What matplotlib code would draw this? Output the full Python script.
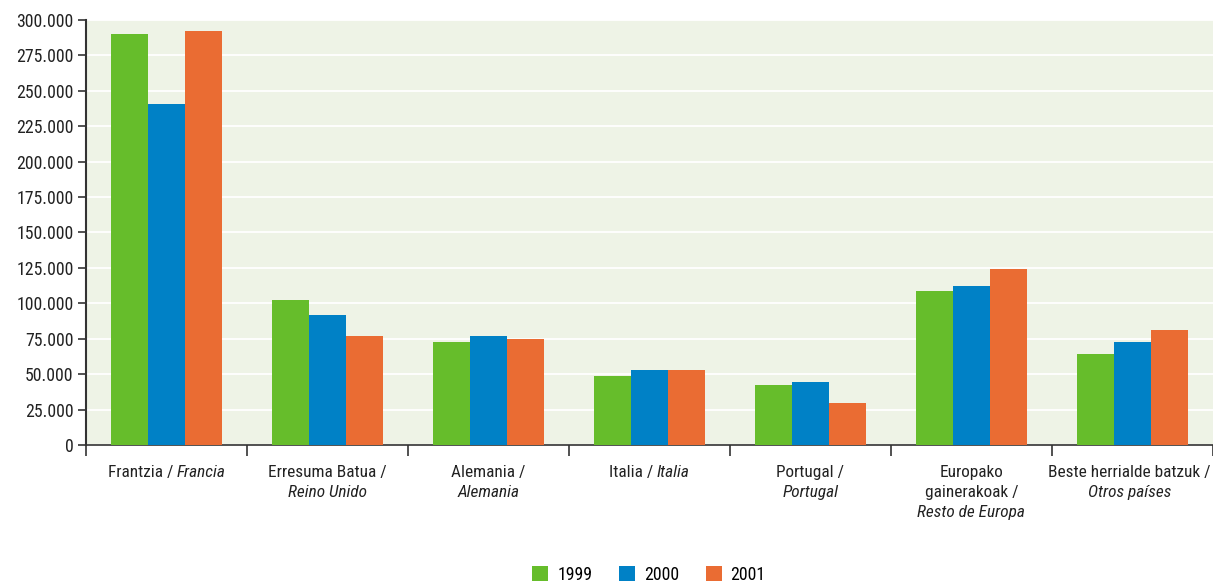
import numpy as np
import matplotlib
matplotlib.use("Agg")
import matplotlib.pyplot as plt
from matplotlib.offsetbox import TextArea, HPacker, VPacker, AnnotationBbox
from matplotlib.ticker import FuncFormatter, MultipleLocator

plt.rcParams['font.family'] = ['Roboto Condensed', 'DejaVu Sans']
FS = 12.8
FS_X = 12.4

years = ['1999', '2000', '2001']
colors = ['#66BD2B', '#0081C6', '#EA6C33']

# each label: list of lines, each line list of (text, italic)
labels = [
    [[('Frantzia /', False), ('Francia', True)]],
    [[('Erresuma Batua /', False)], [('Reino Unido', True)]],
    [[('Alemania /', False)], [('Alemania', True)]],
    [[('Italia /', False), ('Italia', True)]],
    [[('Portugal /', False)], [('Portugal', True)]],
    [[('Europako', False)], [('gainerakoak /', False)], [('Resto de Europa', True)]],
    [[('Beste herrialde batzuk /', False)], [('Otros países', True)]],
]

v1999 = [290000, 102500, 73000, 49000, 42500, 109000, 64500]
v2000 = [240500, 92000, 77000, 53000, 44500, 112000, 73000]
v2001 = [292000, 77000, 75000, 53000, 29500, 124500, 81500]
series = [v1999, v2000, v2001]

fig = plt.figure(figsize=(12.13, 5.84), dpi=100)
ax = fig.add_axes([0.0709, 0.238, 0.929, 0.728])
ax.set_facecolor('#EEF3E6')

x = np.arange(len(labels))
w = 0.23
for k, (vals, c, yr) in enumerate(zip(series, colors, years)):
    ax.bar(x + (k - 1) * w, vals, width=w, color=c, label=yr, zorder=3)

ax.set_xlim(-0.5, len(labels) - 0.5)
ax.set_ylim(0, 300000)
ax.yaxis.set_major_locator(MultipleLocator(25000))
ax.yaxis.set_major_formatter(FuncFormatter(
    lambda v, p: '0' if v == 0 else '{:,.0f}'.format(v).replace(',', '.')))
ax.grid(axis='y', color='white', linewidth=1.3, zorder=1)
ax.set_axisbelow(True)

for s in ['top', 'right']:
    ax.spines[s].set_visible(False)
ax.spines['left'].set_color('#333333')
ax.spines['left'].set_linewidth(1.5)
ax.spines['bottom'].set_color('#333333')
ax.spines['bottom'].set_linewidth(1.2)

ax.tick_params(axis='y', length=6, width=1.2, color='#333333', labelsize=FS,
               labelcolor='#222222', pad=3)
ax.set_xticks(x)
ax.set_xticklabels([])
ax.tick_params(axis='x', which='major', length=0)
ax.set_xticks(np.arange(-0.5, len(labels) - 0.4, 1), minor=True)
ax.tick_params(axis='x', which='minor', length=8, width=1.2, color='#333333')

# category labels: regular + italic parts
for i, lab in enumerate(labels):
    rows = []
    for line in lab:
        parts = [TextArea(t, textprops=dict(fontsize=FS_X, color='#222222',
                                            style='italic' if it else 'normal'))
                 for t, it in line]
        rows.append(HPacker(children=parts, align='baseline', pad=0, sep=2.5))
    box = VPacker(children=rows, align='center', pad=0, sep=3.4)
    ab = AnnotationBbox(box, (i, 0), xycoords=('data', 'axes fraction'),
                        xybox=(-2 if i == len(labels) - 1 else 0, -14.5),
                        boxcoords='offset points',
                        box_alignment=(0.5, 1), frameon=False)
    ax.add_artist(ab)

fig.legend(loc='lower center', bbox_to_anchor=(0.535, -0.027), ncol=3, frameon=False,
           fontsize=FS, handlelength=0.9, handleheight=0.9, columnspacing=1.5,
           handletextpad=0.5)

fig.savefig('out.png', dpi=100)
